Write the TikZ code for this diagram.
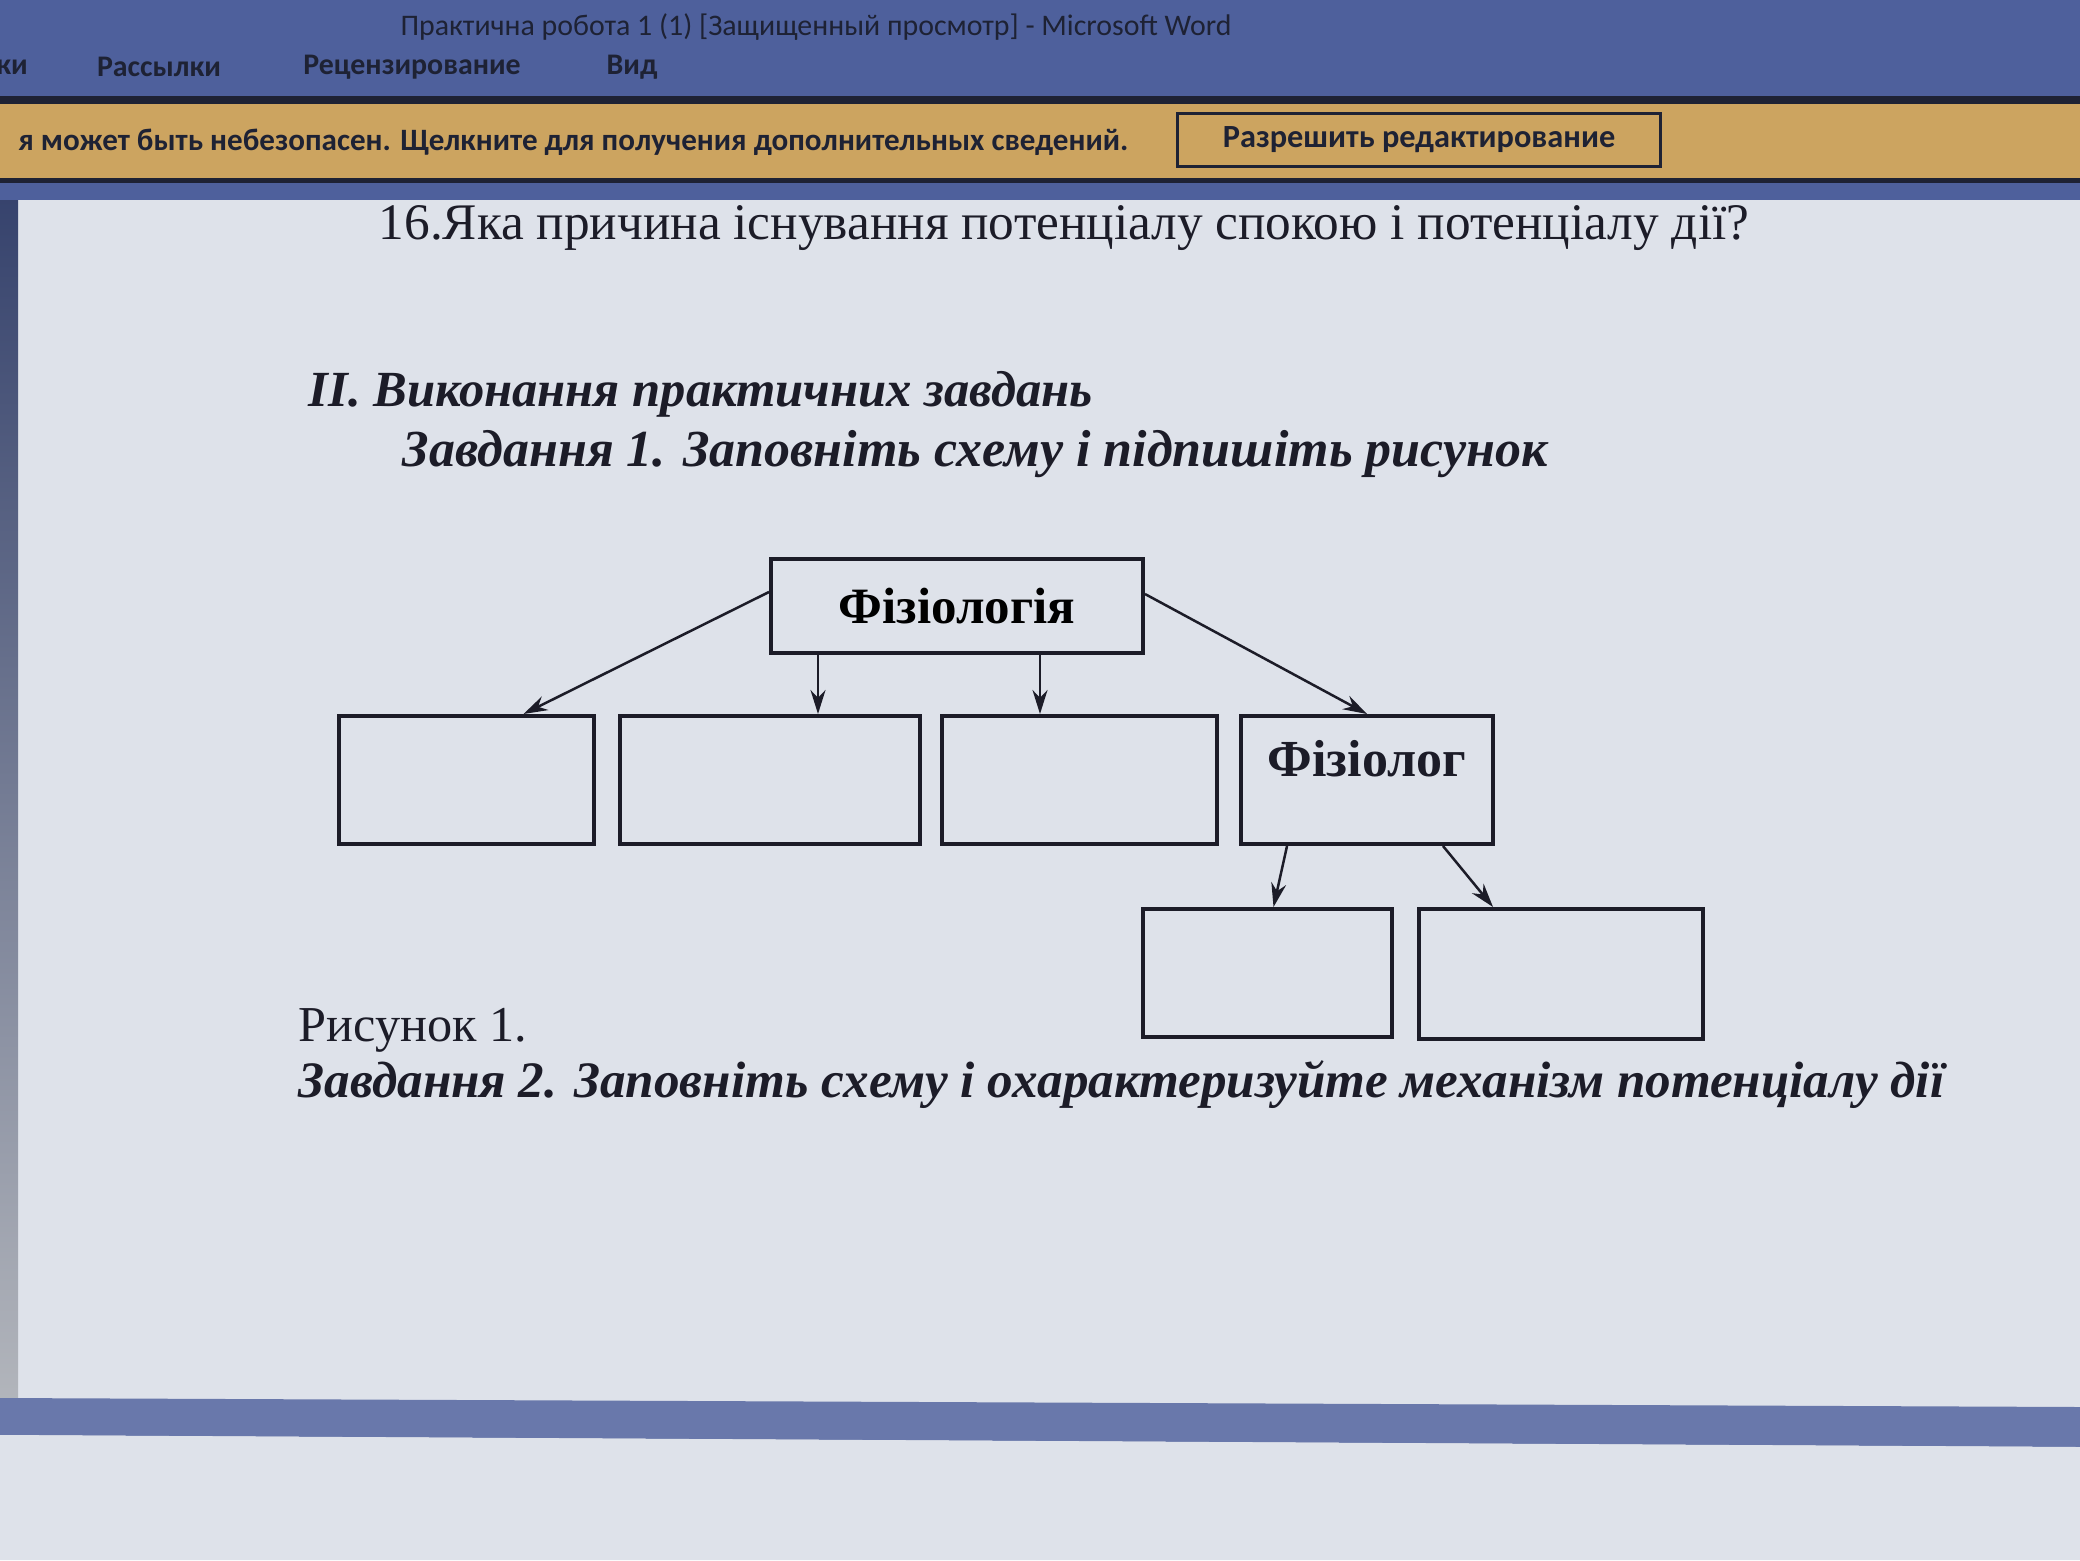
\documentclass[tikz,border=0pt]{standalone}
\usepackage{fontspec}
\setmainfont{Liberation Serif}
\newfontfamily\uifont{Carlito}
\usetikzlibrary{arrows.meta}
\definecolor{barblue}{RGB}{78,96,156}
\definecolor{bardark}{RGB}{30,34,52}
\definecolor{warnbar}{RGB}{204,164,96}
\definecolor{pagegray}{RGB}{222,226,234}
\definecolor{inkblack}{RGB}{28,28,40}
\tikzset{
  box/.style={draw=inkblack, line width=0.4mm, inner sep=0pt, anchor=north west},
  arr/.style={-{Stealth[length=2.4mm,width=1.5mm]}, draw=inkblack, line width=0.25mm},
  ui/.style={font=\uifont\bfseries\fontsize{8.5}{10}\selectfont, text=bardark},
  doc/.style={anchor=west, text=inkblack, inner sep=0pt},
}
\begin{document}
\begin{tikzpicture}[x=0.1mm, y=-0.1mm]
  \useasboundingbox (0,0) rectangle (2080,1560);
  \clip (0,0) rectangle (2080,1560);
  \fill[barblue] (0,0) rectangle (2080,96);
  \fill[bardark] (0,96) rectangle (2080,104);
  \fill[warnbar] (0,104) rectangle (2080,178);
  \fill[bardark] (0,178) rectangle (2080,183);
  \fill[barblue] (0,183) rectangle (2080,200);
  \fill[pagegray] (18,200) rectangle (2080,1560);
  \shade[top color=barblue!70!black, bottom color=pagegray!80!black] (0,200) rectangle (18,1398);
  \fill[barblue!85] (0,1398) -- (2080,1407) -- (2080,1447) -- (0,1435) -- cycle;
  \fill[pagegray] (0,1435) -- (2080,1447) -- (2080,1560) -- (0,1560) -- cycle;

  \node[ui, font=\uifont\fontsize{8.5}{10}\selectfont, anchor=north] (wintitle) at (816,1) {Практична робота 1 (1) [Защищенный просмотр] - Microsoft Word};
  \node[ui] (tabki) at (12,67) {ки};
  \node[ui] (tabmail) at (159,67) {Рассылки};
  \node[ui] (tabrev) at (412,67) {Рецензирование};
  \node[ui] (tabview) at (632,67) {Вид};
  \node[ui, font=\uifont\bfseries\fontsize{8.85}{11}\selectfont, anchor=east] (warntext) at (1141,142) {я может быть небезопасен. Щелкните для получения дополнительных сведений.};
  \node[ui, font=\uifont\bfseries\fontsize{9.2}{11}\selectfont, draw=bardark, line width=0.3mm, minimum width=48.3mm, minimum height=5.3mm] (allowbtn) at (1419,140) {Разрешить редактирование};

  \node[doc, font=\fontsize{14.6}{17}\selectfont] (question) at (378,228) {16.Яка причина існування потенціалу спокою і потенціалу дії?};
  \node[doc, font=\bfseries\itshape\fontsize{14.4}{17}\selectfont] (section) at (308,394) {II. Виконання практичних завдань};
  \node[doc, font=\bfseries\itshape\fontsize{14.8}{17}\selectfont] (task1) at (402,454) {Завдання 1. Заповніть схему і підпишіть рисунок};

  \node[box, minimum width=37.2mm, minimum height=9.4mm, font=\bfseries\fontsize{14.5}{17}\selectfont] (fiz) at (769,557) {Фізіологія};
  \node[box, minimum width=25.5mm, minimum height=12.8mm] (b1) at (337,714) {};
  \node[box, minimum width=30.0mm, minimum height=12.8mm] (b2) at (618,714) {};
  \node[box, minimum width=27.5mm, minimum height=12.8mm] (b3) at (940,714) {};
  \node[box, minimum width=25.2mm, minimum height=12.8mm] (fz) at (1239,714) {};
  \node[font=\bfseries\fontsize{14.8}{17}\selectfont, text=inkblack] (fzlabel) at ([yshift=-4.5mm]fz.north) {Фізіолог};
  \node[box, minimum width=24.9mm, minimum height=12.8mm] (c1) at (1141,907) {};
  \node[box, minimum width=28.4mm, minimum height=13.0mm] (c2) at (1417,907) {};

  \coordinate (m1) at ([xshift=4.9mm]fiz.south west);
  \coordinate (m2) at ([xshift=27.1mm]fiz.south west);
  \draw[arr] ([yshift=1.4mm]fiz.west) -- ([xshift=5.7mm]b1.north);
  \draw[arr] (m1) -- (m1 |- b2.north);
  \draw[arr] (m2) -- (m2 |- b3.north);
  \draw[arr] ([yshift=1.2mm]fiz.east) -- (fz.north);
  \draw[arr] ([xshift=-8mm]fz.south) -- ([xshift=0.6mm]c1.north);
  \draw[arr] ([xshift=7.6mm]fz.south) -- ([xshift=-6.8mm]c2.north);

  \node[doc, font=\fontsize{14.3}{17}\selectfont] (caption) at (298,1030) {Рисунок 1.};
  \node[doc, font=\bfseries\itshape\fontsize{14.55}{17}\selectfont] (task2) at (298,1085) {Завдання 2. Заповніть схему і охарактеризуйте механізм потенціалу дії};
\end{tikzpicture}
\end{document}
